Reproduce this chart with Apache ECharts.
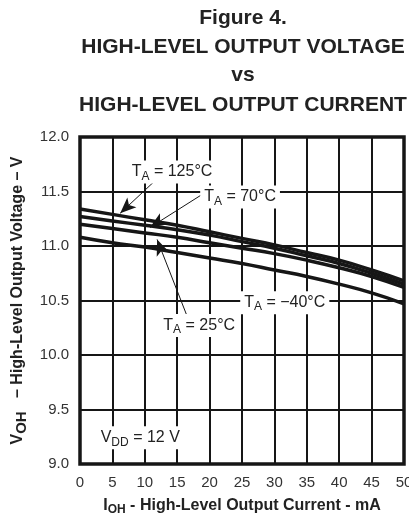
<!DOCTYPE html>
<html>
<head>
<meta charset="utf-8">
<script src="https://cdn.jsdelivr.net/npm/echarts@6/dist/echarts.min.js"></script>
<style>html,body{margin:0;padding:0;background:#fff}#c{width:409px;height:515px}</style>
</head>
<body>
<div id="c"></div>
<script>
const currents = [0, 5, 10, 15, 20, 25, 30, 35, 40, 45, 50];
const vT125 = [11.34, 11.29, 11.24, 11.19, 11.13, 11.07, 11.01, 10.94, 10.87, 10.78, 10.68];
const vT70  = [11.27, 11.23, 11.19, 11.15, 11.10, 11.04, 10.98, 10.91, 10.84, 10.75, 10.65];
const vT25  = [11.20, 11.16, 11.12, 11.08, 11.03, 10.98, 10.93, 10.87, 10.80, 10.72, 10.62];
const vTm40 = [11.08, 11.03, 10.99, 10.94, 10.89, 10.84, 10.78, 10.72, 10.65, 10.57, 10.47];
const xTicks = [0, 5, 10, 15, 20, 25, 30, 35, 40, 45, 50];
const yTicks = [9.0, 9.5, 10.0, 10.5, 11.0, 11.5, 12.0];

// annotation anchors in data units [mA, V]
const labels = [
  {name: '125', at: [14.2, 11.68], text: '{t|T}{s|A}{t| = 125°C}'},
  {name: '70',  at: [24.7, 11.45], text: '{t|T}{s|A}{t| = 70°C}'},
  {name: '-40', at: [31.6, 10.48], text: '{t|T}{s|A}{t| = −40°C}'},
  {name: '25',  at: [18.4, 10.27], text: '{t|T}{s|A}{t| = 25°C}'},
  {name: 'vdd', at: [9.3, 9.24],  text: '{t|V}{s|DD}{t| = 12 V}'}
];
const arrows = [
  [[11.6, 11.60], [6.2, 11.30]],
  [[19.3, 11.49], [10.8, 11.17]],
  [[16.7, 10.33], [11.9, 11.06]]
];

const FONT = 'Liberation Sans, Arial, sans-serif';
const INK = '#161616';
const rich = {
  t: {fontSize: 16, color: '#222', fontFamily: FONT},
  s: {fontSize: 12, color: '#222', fontFamily: FONT, padding: [9, 0, 0, 0]}
};

function pairs(v) { return currents.map((c, i) => [c, v[i]]); }
function curve(name, v) {
  return {
    name, type: 'line', data: pairs(v), smooth: true, symbol: 'none',
    lineStyle: {color: INK, width: 3.5}, z: 3
  };
}

const chart = echarts.init(document.getElementById('c'));
const titleStyle = {fontFamily: FONT, fontWeight: 'bold', fontSize: 21, color: '#222'};
chart.setOption({
  animation: false,
  backgroundColor: '#fff',
  title: [
    {text: 'Figure 4.', left: 238, top: 3, textAlign: 'center', textStyle: titleStyle},
    {text: 'HIGH-LEVEL OUTPUT VOLTAGE', left: 238, top: 32, textAlign: 'center', textStyle: titleStyle},
    {text: 'vs', left: 238, top: 60, textAlign: 'center', textStyle: titleStyle},
    {text: 'HIGH-LEVEL OUTPUT CURRENT', left: 238, top: 90, textAlign: 'center', textStyle: titleStyle}
  ],
  grid: {left: 80, right: 5, top: 137, bottom: 51, outerBoundsMode: 'none', containLabel: false,
    show: true, borderColor: INK, borderWidth: 3.5, backgroundColor: 'transparent', z: 4},
  xAxis: {
    type: 'value', min: 0, max: 50, interval: 5,
    axisLine: {show: false}, axisTick: {show: false},
    splitLine: {show: true, lineStyle: {color: INK, width: 2}},
    axisLabel: {color: '#333', fontSize: 15, fontFamily: FONT, margin: 11,
      formatter: v => xTicks.includes(v) ? String(v) : ''},
    name: '{b|I}{bs|OH}{b| - High-Level Output Current - mA}',
    nameLocation: 'middle', nameGap: 32,
    nameTextStyle: {rich: {
      b: {fontSize: 16, fontWeight: 'bold', color: '#222', fontFamily: FONT},
      bs: {fontSize: 12, fontWeight: 'bold', color: '#222', fontFamily: FONT, padding: [8, 0, 0, 0]}
    }}
  },
  yAxis: {
    type: 'value', min: 9, max: 12, interval: 0.5,
    axisLine: {show: false}, axisTick: {show: false},
    splitLine: {show: true, lineStyle: {color: INK, width: 2}},
    axisLabel: {color: '#333', fontSize: 15, fontFamily: FONT, margin: 11,
      formatter: v => { const t = yTicks.find(k => Math.abs(k - v) < 1e-6); return t === undefined ? '' : t.toFixed(1); }},
    name: '{b|V}{bs|OH}{b|   – High-Level Output Voltage – V}',
    nameLocation: 'middle', nameGap: 42,
    nameTextStyle: {rich: {
      b: {fontSize: 16, fontWeight: 'bold', color: '#222', fontFamily: FONT},
      bs: {fontSize: 15, fontWeight: 'bold', color: '#222', fontFamily: FONT, padding: [7, 0, 0, 0]}
    }}
  },
  series: [
    curve('T_A = 125°C', vT125),
    curve('T_A = 70°C', vT70),
    curve('T_A = 25°C', vT25),
    curve('T_A = −40°C', vTm40),
    {
      type: 'line', data: [], z: 5, silent: true,
      markLine: {
        silent: true, symbol: ['none', 'arrow'], symbolSize: [10, 16],
        lineStyle: {color: INK, width: 1, type: 'solid'},
        label: {show: false},
        data: arrows.map(a => [{coord: a[0]}, {coord: a[1]}])
      },
      markPoint: {
        silent: true, symbol: 'rect', symbolSize: 0,
        label: {show: true, position: 'inside', backgroundColor: '#fff', padding: [1, 4, 1, 4], rich},
        data: labels.map(l => ({name: l.name, coord: l.at, label: {formatter: l.text}}))
      }
    }
  ]
});
</script>
</body>
</html>
